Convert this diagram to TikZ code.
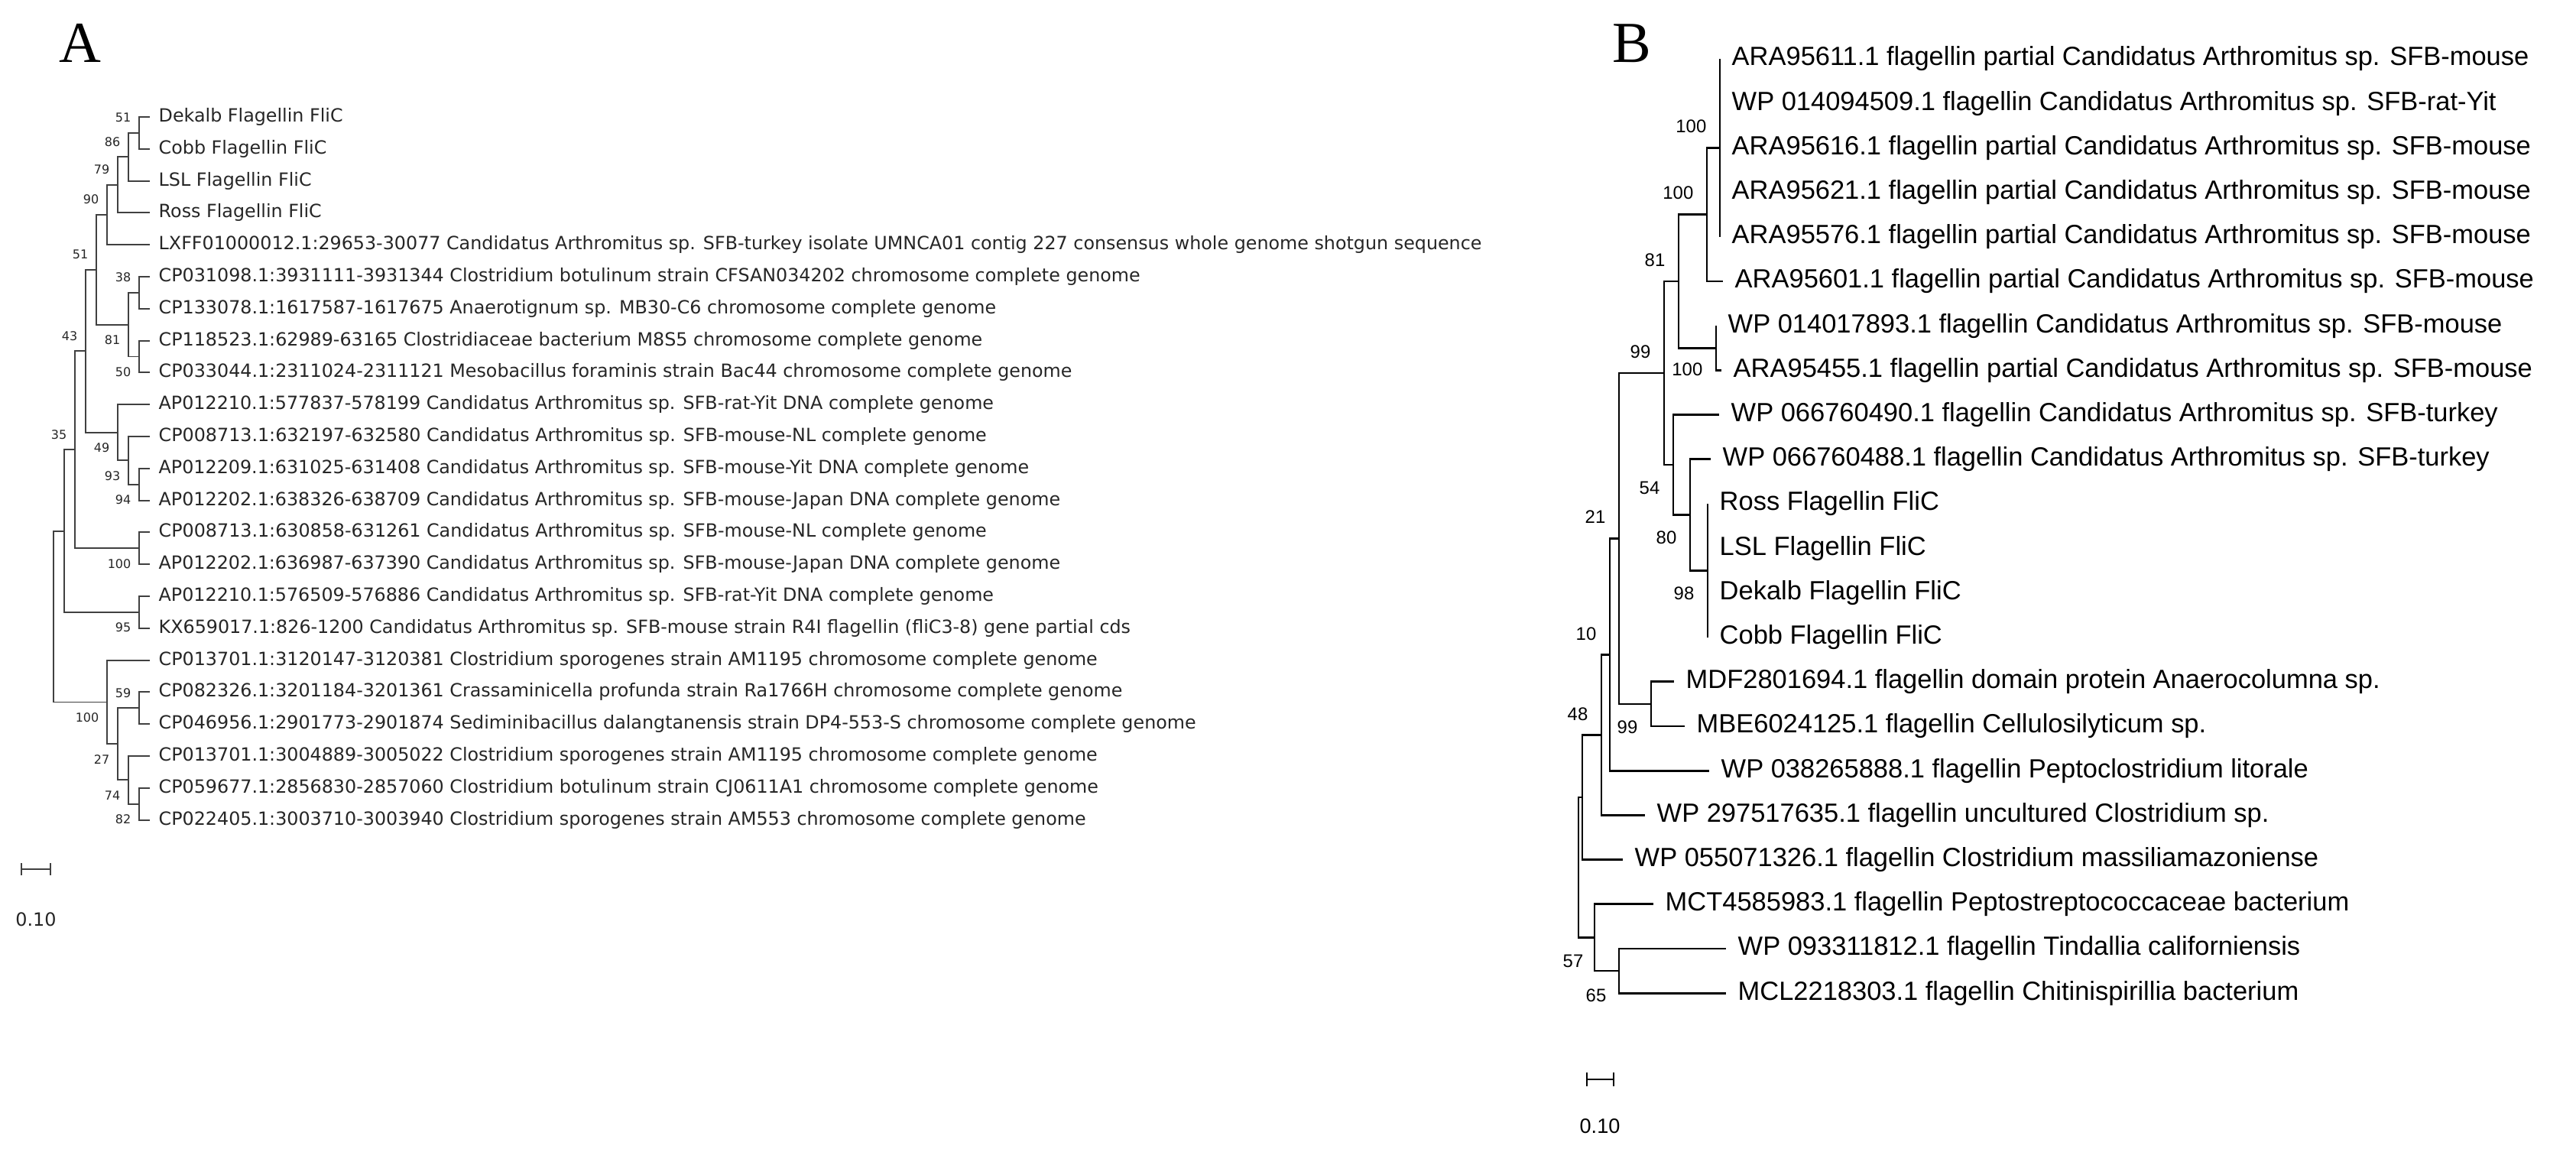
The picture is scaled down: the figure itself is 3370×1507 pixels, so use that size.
\documentclass[tikz,border=0pt]{standalone}
\usepackage{fontspec}
\usepackage{tikz}
\usetikzlibrary{calc}
\newfontfamily\treefontA{DejaVu Sans}
\newfontfamily\treefontB{Liberation Sans}
\newfontfamily\panelfont{Liberation Serif}

\begin{document}
\begin{tikzpicture}[x=0.01cm,y=-0.01cm,
    leafA/.style={anchor=west,inner xsep=0.11cm,inner ysep=0pt,text=black!85,font=\treefontA\fontsize{6.77}{8}\selectfont},
    bootA/.style={anchor=east,inner sep=0pt,text=black!85,font=\treefontA\fontsize{4.55}{5}\selectfont},
    leafB/.style={anchor=west,inner xsep=0.15cm,inner ysep=0pt,font=\treefontB\fontsize{9.8}{11}\selectfont},
    bootB/.style={anchor=east,inner sep=0pt,font=\treefontB\fontsize{6.8}{8}\selectfont},
    panel/.style={inner sep=0pt,font=\panelfont\fontsize{21.6}{24}\selectfont},
    treeA/.style={every edge/.style={draw=black!75,line width=0.55pt,to path={|- (\tikztotarget) \tikztonodes}}},
    treeB/.style={every edge/.style={draw=black,line width=0.75pt,to path={|- (\tikztotarget) \tikztonodes}}}]
        \fill[white] (0,0) rectangle (3370,1507);
        \useasboundingbox (0,0) rectangle (3370,1507);

        % panel A
        \node[panel] (pa) at (105,56) {A};
        \node[leafA] (a1) at (196,153) {Dekalb Flagellin FliC};
        \node[leafA] (a2) at (196,194.8) {Cobb Flagellin FliC};
        \node[leafA] (a3) at (196,236.6) {LSL Flagellin FliC};
        \node[leafA] (a4) at (196,278.4) {Ross Flagellin FliC};
        \node[leafA] (a5) at (196,320.2) {LXFF01000012.1:29653-30077 Candidatus Arthromitus sp. SFB-turkey isolate UMNCA01 contig 227 consensus whole genome shotgun sequence};
        \node[leafA] (a6) at (196,362) {CP031098.1:3931111-3931344 Clostridium botulinum strain CFSAN034202 chromosome complete genome};
        \node[leafA] (a7) at (196,403.8) {CP133078.1:1617587-1617675 Anaerotignum sp. MB30-C6 chromosome complete genome};
        \node[leafA] (a8) at (196,445.6) {CP118523.1:62989-63165 Clostridiaceae bacterium M8S5 chromosome complete genome};
        \node[leafA] (a9) at (196,487.4) {CP033044.1:2311024-2311121 Mesobacillus foraminis strain Bac44 chromosome complete genome};
        \node[leafA] (a10) at (196,529.2) {AP012210.1:577837-578199 Candidatus Arthromitus sp. SFB-rat-Yit DNA complete genome};
        \node[leafA] (a11) at (196,571) {CP008713.1:632197-632580 Candidatus Arthromitus sp. SFB-mouse-NL complete genome};
        \node[leafA] (a12) at (196,612.8) {AP012209.1:631025-631408 Candidatus Arthromitus sp. SFB-mouse-Yit DNA complete genome};
        \node[leafA] (a13) at (196,654.6) {AP012202.1:638326-638709 Candidatus Arthromitus sp. SFB-mouse-Japan DNA complete genome};
        \node[leafA] (a14) at (196,696.4) {CP008713.1:630858-631261 Candidatus Arthromitus sp. SFB-mouse-NL complete genome};
        \node[leafA] (a15) at (196,738.2) {AP012202.1:636987-637390 Candidatus Arthromitus sp. SFB-mouse-Japan DNA complete genome};
        \node[leafA] (a16) at (196,780) {AP012210.1:576509-576886 Candidatus Arthromitus sp. SFB-rat-Yit DNA complete genome};
        \node[leafA] (a17) at (196,821.8) {KX659017.1:826-1200 Candidatus Arthromitus sp. SFB-mouse strain R4I flagellin (fliC3-8) gene partial cds};
        \node[leafA] (a18) at (196,863.6) {CP013701.1:3120147-3120381 Clostridium sporogenes strain AM1195 chromosome complete genome};
        \node[leafA] (a19) at (196,905.4) {CP082326.1:3201184-3201361 Crassaminicella profunda strain Ra1766H chromosome complete genome};
        \node[leafA] (a20) at (196,947.2) {CP046956.1:2901773-2901874 Sediminibacillus dalangtanensis strain DP4-553-S chromosome complete genome};
        \node[leafA] (a21) at (196,989) {CP013701.1:3004889-3005022 Clostridium sporogenes strain AM1195 chromosome complete genome};
        \node[leafA] (a22) at (196,1030.8) {CP059677.1:2856830-2857060 Clostridium botulinum strain CJ0611A1 chromosome complete genome};
        \node[leafA] (a23) at (196,1072.6) {CP022405.1:3003710-3003940 Clostridium sporogenes strain AM553 chromosome complete genome};

        \coordinate (n1) at (182,173.9);
        \coordinate (n2) at (168,205.25);
        \coordinate (n3) at (154,241.8);
        \coordinate (n4) at (140,281);
        \coordinate (n5) at (182,382.9);
        \coordinate (n6) at (182,466.5);
        \coordinate (n7) at (168,424.7);
        \coordinate (n8) at (126,352.9);
        \coordinate (n9) at (112,459.3);
        \coordinate (n10) at (154,565.8);
        \coordinate (n11) at (168,602.35);
        \coordinate (n12) at (182,633.7);
        \coordinate (n13) at (182,717.3);
        \coordinate (n14) at (98,588.3);
        \coordinate (n15) at (182,800.9);
        \coordinate (n16) at (84,694.6);
        \coordinate (n17) at (182,926.3);
        \coordinate (n18) at (182,1051.7);
        \coordinate (n19) at (168,1020.35);
        \coordinate (n20) at (140,918.5);
        \coordinate (n21) at (154,973.3);
        \coordinate (ra) at (70,806.5);

        \begin{scope}[treeA]
        \path (n1) edge (a1) edge (a2)
              (n2) edge (n1) edge (a3)
              (n3) edge (n2) edge (a4)
              (n4) edge (n3) edge (a5)
              (n5) edge (a6) edge (a7)
              (n6) edge (a8) edge (a9)
              (n7) edge (n5) edge (n6)
              (n8) edge (n4) edge (n7)
              (n12) edge (a12) edge (a13)
              (n11) edge (a11) edge (n12)
              (n10) edge (a10) edge (n11)
              (n9) edge (n8) edge (n10)
              (n13) edge (a14) edge (a15)
              (n14) edge (n9) edge (n13)
              (n15) edge (a16) edge (a17)
              (n16) edge (n14) edge (n15)
              (n17) edge (a19) edge (a20)
              (n18) edge (a22) edge (a23)
              (n19) edge (a21) edge (n18)
              (n21) edge (n17) edge (n19)
              (n20) edge (a18) edge (n21)
              (ra) edge (n16) edge (n20);
        \end{scope}

        \node[bootA] (s1) at ($(n1)+(-10,-20)$) {51};
        \node[bootA] (s2) at ($(n2)+(-10,-20)$) {86};
        \node[bootA] (s3) at ($(n3)+(-10,-20)$) {79};
        \node[bootA] (s4) at ($(n4)+(-10,-20)$) {90};
        \node[bootA] (s5) at ($(n5)+(-10,-20)$) {38};
        \node[bootA] (s6) at ($(n6)+(-10,20)$) {50};
        \node[bootA] (s7) at ($(n7)+(-10,20)$) {81};
        \node[bootA] (s8) at ($(n8)+(-10,-20)$) {51};
        \node[bootA] (s9) at ($(n9)+(-10,-20)$) {43};
        \node[bootA] (s10) at ($(n10)+(-10,20)$) {49};
        \node[bootA] (s11) at ($(n11)+(-10,20)$) {93};
        \node[bootA] (s12) at ($(n12)+(-10,20)$) {94};
        \node[bootA] (s13) at ($(n13)+(-10,20)$) {100};
        \node[bootA] (s14) at ($(n14)+(-10,-20)$) {35};
        \node[bootA] (s15) at ($(n15)+(-10,20)$) {95};
        \node[bootA] (s17) at ($(n17)+(-10,-20)$) {59};
        \node[bootA] (s18) at ($(n18)+(-10,20)$) {82};
        \node[bootA] (s19) at ($(n19)+(-10,20)$) {74};
        \node[bootA] (s20) at ($(n20)+(-10,20)$) {100};
        \node[bootA] (s21) at ($(n21)+(-10,20)$) {27};

        \coordinate (sa1) at (28,1137);
        \coordinate (sa2) at (66,1137);
        \draw[black!75,line width=0.55pt] (sa1) -- (sa2) (sa1) ++(0,-8) -- ++(0,16) (sa2) ++(0,-8) -- ++(0,16);
        \node[text=black!85,font=\treefontA\fontsize{6.8}{8}\selectfont] (la) at (47,1203) {0.10};

        % panel B
        \node[panel] (pb) at (2135,57) {B};
        \node[leafB] (b1) at (2250,77) {ARA95611.1 flagellin partial Candidatus Arthromitus sp. SFB-mouse};
        \node[leafB] (b2) at (2250,135.2) {WP 014094509.1 flagellin Candidatus Arthromitus sp. SFB-rat-Yit};
        \node[leafB] (b3) at (2250,193.4) {ARA95616.1 flagellin partial Candidatus Arthromitus sp. SFB-mouse};
        \node[leafB] (b4) at (2250,251.6) {ARA95621.1 flagellin partial Candidatus Arthromitus sp. SFB-mouse};
        \node[leafB] (b5) at (2250,309.8) {ARA95576.1 flagellin partial Candidatus Arthromitus sp. SFB-mouse};
        \node[leafB] (b6) at (2254,368) {ARA95601.1 flagellin partial Candidatus Arthromitus sp. SFB-mouse};
        \node[leafB] (b7) at (2245,426.2) {WP 014017893.1 flagellin Candidatus Arthromitus sp. SFB-mouse};
        \node[leafB] (b8) at (2252,484.4) {ARA95455.1 flagellin partial Candidatus Arthromitus sp. SFB-mouse};
        \node[leafB] (b9) at (2249,542.6) {WP 066760490.1 flagellin Candidatus Arthromitus sp. SFB-turkey};
        \node[leafB] (b10) at (2238,600.8) {WP 066760488.1 flagellin Candidatus Arthromitus sp. SFB-turkey};
        \node[leafB] (b11) at (2234,659) {Ross Flagellin FliC};
        \node[leafB] (b12) at (2234,717.2) {LSL Flagellin FliC};
        \node[leafB] (b13) at (2234,775.4) {Dekalb Flagellin FliC};
        \node[leafB] (b14) at (2234,833.6) {Cobb Flagellin FliC};
        \node[leafB] (b15) at (2190,891.8) {MDF2801694.1 flagellin domain protein Anaerocolumna sp.};
        \node[leafB] (b16) at (2204,950) {MBE6024125.1 flagellin Cellulosilyticum sp.};
        \node[leafB] (b17) at (2236,1008.2) {WP 038265888.1 flagellin Peptoclostridium litorale};
        \node[leafB] (b18) at (2152,1066.4) {WP 297517635.1 flagellin uncultured Clostridium sp.};
        \node[leafB] (b19) at (2123,1124.6) {WP 055071326.1 flagellin Clostridium massiliamazoniense};
        \node[leafB] (b20) at (2163,1182.8) {MCT4585983.1 flagellin Peptostreptococcaceae bacterium};
        \node[leafB] (b21) at (2258,1241) {WP 093311812.1 flagellin Tindallia californiensis};
        \node[leafB] (b22) at (2258,1299.2) {MCL2218303.1 flagellin Chitinispirillia bacterium};

        \coordinate (p1) at (2250,193.4);
        \coordinate (p2) at (2233,280.7);
        \coordinate (p3) at (2245,455.3);
        \coordinate (p4) at (2196,368);
        \coordinate (p5) at (2234,746.3);
        \coordinate (p6) at (2211,673.6);
        \coordinate (p7) at (2189,608.1);
        \coordinate (p8) at (2177,488);
        \coordinate (p9) at (2160,920.9);
        \coordinate (p10) at (2118,704.5);
        \coordinate (p11) at (2106,856.4);
        \coordinate (p12) at (2095,961.4);
        \coordinate (p13) at (2070,1043);
        \coordinate (p14) at (2118,1270.1);
        \coordinate (p15) at (2086,1226.5);
        \coordinate (rb) at (2065,1134.7);

        \begin{scope}[treeB]
        \path (p1) edge (b1) edge (b2) edge (b3) edge (b4) edge (b5)
              (p2) edge (p1) edge (b6)
              (p3) edge (b7) edge (b8)
              (p4) edge (p2) edge (p3)
              (p5) edge (b11) edge (b12) edge (b13) edge (b14)
              (p6) edge (b10) edge (p5)
              (p7) edge (b9) edge (p6)
              (p8) edge (p4) edge (p7)
              (p9) edge (b15) edge (b16)
              (p10) edge (p8) edge (p9)
              (p11) edge (p10) edge (b17)
              (p12) edge (p11) edge (b18)
              (p13) edge (p12) edge (b19)
              (p14) edge (b21) edge (b22)
              (p15) edge (b20) edge (p14)
              (rb) edge (p13) edge (p15);
        \end{scope}

        \node[bootB] (t1) at ($(p1)+(-17,-28)$) {100};
        \node[bootB] (t2) at ($(p2)+(-17,-28)$) {100};
        \node[bootB] (t3) at ($(p3)+(-17,28)$) {100};
        \node[bootB] (t4) at ($(p4)+(-17,-28)$) {81};
        \node[bootB] (t5) at ($(p5)+(-17,30)$) {98};
        \node[bootB] (t6) at ($(p6)+(-17,30)$) {80};
        \node[bootB] (t7) at ($(p7)+(-17,30)$) {54};
        \node[bootB] (t8) at ($(p8)+(-17,-28)$) {99};
        \node[bootB] (t9) at ($(p9)+(-17,30)$) {99};
        \node[bootB] (t10) at ($(p10)+(-17,-28)$) {21};
        \node[bootB] (t11) at ($(p11)+(-17,-27)$) {10};
        \node[bootB] (t12) at ($(p12)+(-17,-27)$) {48};
        \node[bootB] (t14) at ($(p14)+(-16,32)$) {65};
        \node[bootB] (t15) at ($(p15)+(-14,31)$) {57};

        \coordinate (sb1) at (2076,1412);
        \coordinate (sb2) at (2111,1412);
        \draw[line width=0.75pt] (sb1) -- (sb2) (sb1) ++(0,-9) -- ++(0,18) (sb2) ++(0,-9) -- ++(0,18);
        \node[font=\treefontB\fontsize{7.7}{9}\selectfont] (lb) at (2093,1473) {0.10};
\end{tikzpicture}
\end{document}
